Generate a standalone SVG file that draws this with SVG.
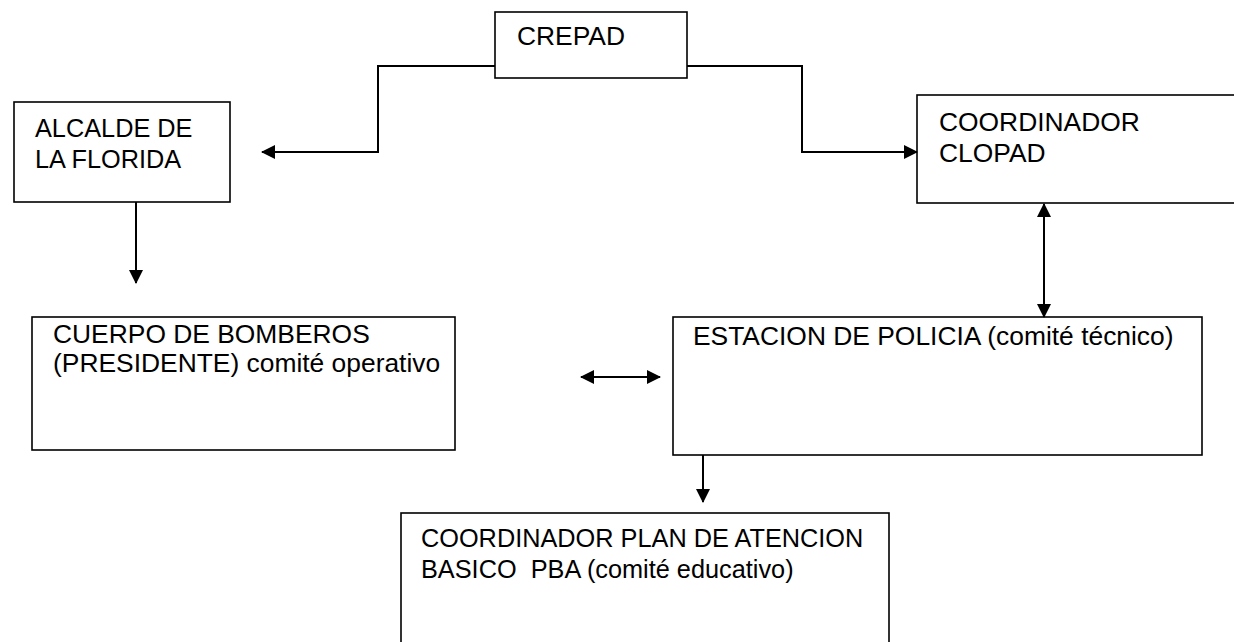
<svg xmlns="http://www.w3.org/2000/svg" width="1234" height="642" viewBox="0 0 1234 642">
<style>
.box{fill:#fff;stroke:#000;stroke-width:1.6}
.t{font-family:"Liberation Sans",Arial,sans-serif;font-size:26.4px;fill:#000}
.s{font-size:25.3px}
.c{fill:none;stroke:#000;stroke-width:2}
</style>
<defs>
<marker id="ah" markerUnits="userSpaceOnUse" markerWidth="14" markerHeight="14" viewBox="0 0 14 14" refX="13" refY="7" orient="auto-start-reverse">
<path d="M0,0 L14,7 L0,14 Z" fill="#000"/>
</marker>
</defs>
<rect width="1234" height="642" fill="#fff"/>
<g id="crepad"><rect class="box" x="495" y="12" width="192" height="66"/><text class="t" x="517" y="45">CREPAD</text></g>
<g id="alcalde"><rect class="box" x="14" y="102" width="216" height="100"/><text class="t s" x="35" y="137">ALCALDE DE</text><text class="t s" x="35" y="168">LA FLORIDA</text></g>
<g id="clopad"><rect class="box" x="917" y="95" width="330" height="108"/><text class="t" x="939" y="131">COORDINADOR</text><text class="t" x="939" y="162">CLOPAD</text></g>
<g id="bomberos"><rect class="box" x="32" y="317" width="423" height="133"/><text class="t" x="53" y="343">CUERPO DE BOMBEROS</text><text class="t" x="53" y="372">(PRESIDENTE) comité operativo</text></g>
<g id="policia"><rect class="box" x="673" y="317" width="529" height="138"/><text class="t" x="693" y="345">ESTACION DE POLICIA (comité técnico)</text></g>
<g id="pba"><rect class="box" x="401" y="513" width="488" height="140"/><text class="t s" x="421" y="547">COORDINADOR PLAN DE ATENCION</text><text class="t s" x="421" y="578" xml:space="preserve">BASICO  PBA (comité educativo)</text></g>
<g id="connectors">
<polyline class="c" points="495,66 378,66 378,152 262,152" marker-end="url(#ah)"/>
<polyline class="c" points="687,66 802,66 802,152 917,152" marker-end="url(#ah)"/>
<line class="c" x1="136" y1="202" x2="136" y2="283" marker-end="url(#ah)"/>
<line class="c" x1="1044" y1="204" x2="1044" y2="317" marker-start="url(#ah)" marker-end="url(#ah)"/>
<line class="c" x1="581" y1="377" x2="660" y2="377" marker-start="url(#ah)" marker-end="url(#ah)"/>
<line class="c" x1="703" y1="455" x2="703" y2="502" marker-end="url(#ah)"/>
</g>
</svg>
